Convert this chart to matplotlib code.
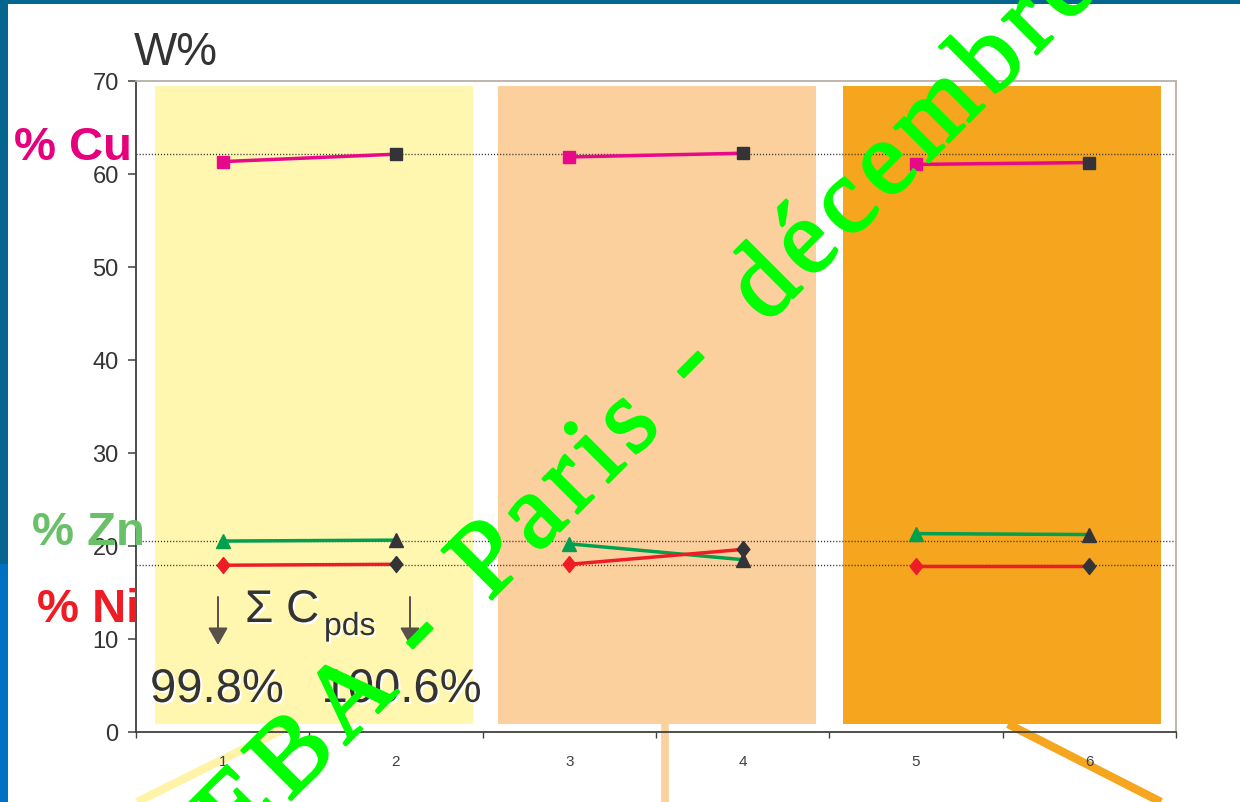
import numpy as np
import matplotlib
matplotlib.use("Agg")
import matplotlib.pyplot as plt
from matplotlib.patches import Rectangle, FancyArrowPatch
from matplotlib.lines import Line2D
from matplotlib import patheffects as pe
from matplotlib import font_manager as fm
from matplotlib.ft2font import FT2Font, LoadFlags

# ---------------- data ----------------
samples = [1, 2, 3, 4, 5, 6]
tick_labels = ["1", "2", "3", "4", "5", "6"]
cu = [61.3, 62.1, 61.8, 62.2, 61.0, 61.2]
zn = [20.5, 20.6, 20.2, 18.5, 21.3, 21.2]
ni = [17.9, 18.0, 18.0, 19.6, 17.8, 17.8]
ref_levels = [62.1, 20.5, 17.9]
sum_labels = ["99.8%", "100.6%"]
y_ticks = [0, 10, 20, 30, 40, 50, 60, 70]

# ---------------- fonts ----------------
names = {f.name for f in fm.fontManager.ttflist}
narrow = "Liberation Sans Narrow" if "Liberation Sans Narrow" in names else "Liberation Sans"
sans = "Liberation Sans"
serif = "Liberation Serif"

W, H = 1240, 803
fig = plt.figure(figsize=(W / 100, H / 100), dpi=100, facecolor="white")

def fx(x):
    return x / W

def fy(y):
    return 1 - y / H

# ---------------- slide decorations ----------------
fig.patches.append(Rectangle((0, fy(5)), 1, 5 / H, transform=fig.transFigure,
                             facecolor="#04668F", edgecolor="none", zorder=-2))
fig.patches.append(Rectangle((0, fy(565)), 8 / W, (565 - 5) / H, transform=fig.transFigure,
                             facecolor="#04668F", edgecolor="none", zorder=-2))
fig.patches.append(Rectangle((0, 0), 8 / W, (H - 565) / H, transform=fig.transFigure,
                             facecolor="#0070C0", edgecolor="none", zorder=-2))
for (x0, y0, x1, y1, c, lw) in [(137, 803, 290, 727, "#FFF3A8", 6.0),
                                (665, 725, 665, 803, "#FCD09D", 5.5),
                                (1008, 725, 1161, 803, "#F6A61E", 6.0)]:
    fig.lines.append(Line2D([fx(x0), fx(x1)], [fy(y0), fy(y1)], transform=fig.transFigure,
                            color=c, lw=lw, zorder=-1, solid_capstyle="butt"))

# ---------------- axes ----------------
ax = fig.add_axes([fx(136), fy(732.7), (1176 - 136) / W, (732.7 - 81.7) / H])
ax.set_facecolor("none")
ax.set_xlim(0.5, 6.5)
ax.set_ylim(0, 70)

# background bands
bands = [(0.61, 2.444, "#FFF7B0"), (2.588, 4.423, "#FCD09D"), (4.579, 6.414, "#F6A61E")]
for x0, x1, c in bands:
    ax.add_patch(Rectangle((x0, 0.83), x1 - x0, 69.4 - 0.83, facecolor=c,
                           edgecolor="none", zorder=0.5))

# reference dotted lines
for lv in ref_levels:
    ax.axhline(lv, color="#333333", lw=1.0, ls=(0, (0.8, 1.4)), zorder=2)

dark = "#333338"
diamond = [(0, 1), (0.8, 0), (0, -1), (-0.8, 0), (0, 1)]
series = [(cu, "#E8088A", "s", 9.3), (zn, "#00A04E", "^", 10.5), (ni, "#EE1C25", diamond, 11.5)]
for vals, col, mk, ms in series:
    for i in range(0, 6, 2):
        xs = samples[i:i + 2]
        ys = vals[i:i + 2]
        ax.plot(xs, ys, color=col, lw=2.5, zorder=3, solid_capstyle="butt")
        ax.plot(xs[0], ys[0], marker=mk, ms=ms, color=col, mec=col, ls="none", zorder=4)
        ax.plot(xs[1], ys[1], marker=mk, ms=ms, color=dark, mec=dark, ls="none", zorder=4)

# spines
for s in ["left", "bottom"]:
    ax.spines[s].set_color("#404040")
    ax.spines[s].set_linewidth(1.3)
for s in ["top", "right"]:
    ax.spines[s].set_color("#B8B0A8")
    ax.spines[s].set_linewidth(1.3)

ax.set_yticks(y_ticks)
ax.set_yticklabels([str(v) for v in y_ticks], fontfamily=narrow, fontsize=17, color="#333333")
ax.tick_params(axis="y", direction="out", length=5.5, width=1.1, color="#404040", pad=7)
ax.set_xticks(samples)
ax.set_xticklabels(tick_labels, fontfamily=narrow, fontsize=11, color="#404040")
ax.set_xticks(np.arange(0.5, 6.6, 1.0), minor=True)
ax.tick_params(axis="x", which="major", length=0, pad=16)
ax.tick_params(axis="x", which="minor", direction="out", length=4, width=1.0, color="#404040")

# ---------------- texts ----------------
fig.text(fx(134), fy(65), "W%", fontfamily=sans, fontsize=33, color="#333333",
         ha="left", va="baseline")
fig.text(fx(14), fy(160), "% Cu", fontfamily=sans, fontweight="bold", fontsize=34,
         color="#E6007E", ha="left", va="baseline")
fig.text(fx(32), fy(545), "% Zn", fontfamily=sans, fontweight="bold", fontsize=34,
         color="#6ABF69", ha="left", va="baseline")
fig.text(fx(37), fy(622), "% Ni", fontfamily=sans, fontweight="bold", fontsize=34,
         color="#EE1C25", ha="left", va="baseline")

shadow = [pe.withSimplePatchShadow(offset=(1.5, -1.5), shadow_rgbFace="white", alpha=1.0)]
fig.text(fx(245), fy(623), "Σ C", fontfamily=sans, fontsize=33, color="#333333",
         ha="left", va="baseline", path_effects=shadow)
fig.text(fx(324), fy(636), "pds", fontfamily=sans, fontsize=23, color="#333333",
         ha="left", va="baseline", path_effects=shadow)
fig.text(fx(150), fy(703), sum_labels[0], fontfamily=sans, fontsize=34, color="#333333",
         ha="left", va="baseline", path_effects=shadow)
fig.text(fx(482), fy(703), sum_labels[1], fontfamily=sans, fontsize=34, color="#333333",
         ha="right", va="baseline", path_effects=shadow)

for xa in [218, 410]:
    fig.patches.append(FancyArrowPatch(
        (fx(xa), fy(598)), (fx(xa), fy(646)), transform=fig.transFigure,
        arrowstyle="-|>,head_length=7,head_width=4", mutation_scale=1.5,
        color="#58504A", lw=1.4, shrinkA=0, shrinkB=0, zorder=5))

# ---------------- watermark (green rotated text, spaced letters) ----------------
wm_size = 77
wm_prop = fm.FontProperties(family=serif, size=wm_size)
ft = FT2Font(fm.findfont(wm_prop))
ft.set_size(wm_size, 100)
spacing = 8.0
c45 = np.cos(np.pi / 4)
bolden = [pe.withStroke(linewidth=1.8, foreground="#00FF00")]

def advance(ch):
    g = ft.load_char(ord(ch), flags=LoadFlags.NO_HINTING)
    return g.linearHoriAdvance / 65536.0

def wm_word(word, x_start, y_start):
    x, y = x_start, y_start
    for ch in word:
        fig.text(fx(x), fy(y), ch, fontproperties=wm_prop, color="#00FF00",
                 rotation=45, rotation_mode="anchor", ha="left", va="baseline",
                 zorder=10, path_effects=bolden)
        adv = advance(ch) + spacing
        x += adv * c45
        y -= adv * c45

base = 1092.0
for word, xs in [("EBA", 237), ("-", 425), ("Paris", 489), ("-", 696), ("décembre", 766)]:
    wm_word(word, xs, base - xs)

fig.savefig("out.png", dpi=100)
